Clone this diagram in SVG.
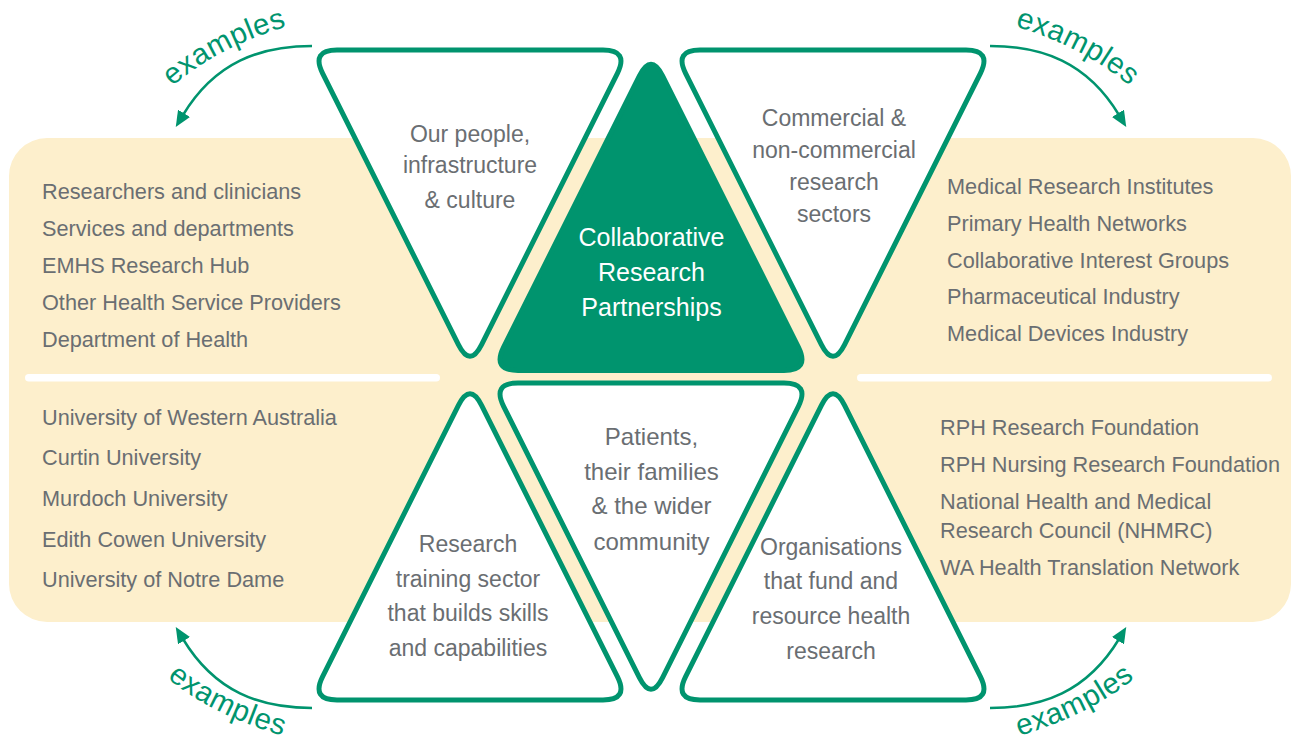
<svg xmlns="http://www.w3.org/2000/svg" xmlns:xlink="http://www.w3.org/1999/xlink" width="1292" height="742" viewBox="0 0 1292 742">
  <style>
    .panel { fill: #FDEFCC; }
    .divider { fill: #FFFFFF; }
    .tri { fill: #FFFFFF; stroke: #00946E; stroke-width: 5; stroke-linejoin: round; }
    .tri-core { fill: #00946E; stroke: #00946E; stroke-width: 5; }
    .label { font-family: "Liberation Sans", Arial, sans-serif; fill: #6A6E72; text-anchor: middle; }
    .side { font-size: 23px; }
    .mid { font-size: 24px; }
    .core { font-family: "Liberation Sans", Arial, sans-serif; font-size: 25px; fill: #FFFFFF; text-anchor: middle; }
    .list { font-family: "Liberation Sans", Arial, sans-serif; font-size: 21.7px; fill: #6A6E72; }
    .arrow { fill: none; stroke: #00946E; stroke-width: 2.5; marker-end: url(#arrowhead); }
    .ex { font-family: "Liberation Sans", Arial, sans-serif; font-size: 29.5px; fill: #00946E; letter-spacing: 0.5px; }
  </style>
  <defs>
    <!-- rounded triangle pointing down, origin at centre of top edge -->
    <path id="tri-down" d="M-133,0 L133,0 Q159,0 147.4,23.3 L11.6,294.7 Q0,318 -11.6,294.7 L-147.4,23.3 Q-159,0 -133,0 Z"/>
    <!-- rounded triangle pointing up, origin at centre of base -->
    <path id="tri-up" d="M-133,0 L133,0 Q159,0 147.4,-23.3 L11.6,-294.7 Q0,-318 -11.6,-294.7 L-147.4,-23.3 Q-159,0 -133,0 Z"/>
    <marker id="arrowhead" viewBox="0 0 16 14" refX="2" refY="7" markerWidth="16" markerHeight="14" markerUnits="userSpaceOnUse" orient="auto">
      <path d="M0,0 L16,7 L0,14 Z" fill="#00946E"/>
    </marker>
    <path id="ex-path-tl" d="M161,97 Q212,46 302,22"/>
    <path id="ex-path-tr" d="M1000,22 Q1090,46 1141,97"/>
    <path id="ex-path-bl" d="M156,668 Q205,715 297,740"/>
    <path id="ex-path-br" d="M1005,740 Q1097,715 1146,668"/>
  </defs>

  <!-- background panel and separators -->
  <g id="background">
    <rect class="panel" x="9" y="138" width="1282" height="484" rx="38"/>
    <rect class="divider" x="25" y="374" width="415" height="7.5" rx="3.75"/>
    <rect class="divider" x="857" y="374" width="415" height="7.5" rx="3.75"/>
  </g>

  <!-- example lists -->
  <g id="list-people">
    <text class="list" x="42" y="199">Researchers and clinicians</text>
    <text class="list" x="42" y="236">Services and departments</text>
    <text class="list" x="42" y="273">EMHS Research Hub</text>
    <text class="list" x="42" y="310">Other Health Service Providers</text>
    <text class="list" x="42" y="347">Department of Health</text>
  </g>
  <g id="list-training">
    <text class="list" x="42" y="425">University of Western Australia</text>
    <text class="list" x="42" y="465">Curtin University</text>
    <text class="list" x="42" y="506">Murdoch University</text>
    <text class="list" x="42" y="547">Edith Cowen University</text>
    <text class="list" x="42" y="587">University of Notre Dame</text>
  </g>
  <g id="list-sectors">
    <text class="list" x="947" y="194">Medical Research Institutes</text>
    <text class="list" x="947" y="231">Primary Health Networks</text>
    <text class="list" x="947" y="268">Collaborative Interest Groups</text>
    <text class="list" x="947" y="304">Pharmaceutical Industry</text>
    <text class="list" x="947" y="341">Medical Devices Industry</text>
  </g>
  <g id="list-funding">
    <text class="list" x="940" y="435">RPH Research Foundation</text>
    <text class="list" x="940" y="472">RPH Nursing Research Foundation</text>
    <text class="list" x="940" y="509">National Health and Medical</text>
    <text class="list" x="940" y="538">Research Council (NHMRC)</text>
    <text class="list" x="940" y="575">WA Health Translation Network</text>
  </g>

  <!-- triangles -->
  <g id="node-people">
    <use xlink:href="#tri-down" class="tri" transform="translate(470,50)"/>
    <text class="label side" x="470" y="141.5">Our people,</text>
    <text class="label side" x="470" y="173">infrastructure</text>
    <text class="label side" x="470" y="207.5">&amp; culture</text>
  </g>
  <g id="node-sectors">
    <use xlink:href="#tri-down" class="tri" transform="translate(833,50)"/>
    <text class="label side" x="834" y="126">Commercial &amp;</text>
    <text class="label side" x="834" y="158">non-commercial</text>
    <text class="label side" x="834" y="190">research</text>
    <text class="label side" x="834" y="222">sectors</text>
  </g>
  <g id="node-partnerships">
    <use xlink:href="#tri-up" class="tri-core" transform="translate(651,370.5)"/>
    <text class="core" x="651.5" y="246">Collaborative</text>
    <text class="core" x="651.5" y="281">Research</text>
    <text class="core" x="651.5" y="316">Partnerships</text>
  </g>
  <g id="node-community">
    <use xlink:href="#tri-down" class="tri" transform="translate(651,383)"/>
    <text class="label mid" x="651.5" y="445">Patients,</text>
    <text class="label mid" x="651.5" y="480">their families</text>
    <text class="label mid" x="651.5" y="514">&amp; the wider</text>
    <text class="label mid" x="651.5" y="550">community</text>
  </g>
  <g id="node-training">
    <use xlink:href="#tri-up" class="tri" transform="translate(470,700)"/>
    <text class="label side" x="468" y="552">Research</text>
    <text class="label side" x="468" y="587">training sector</text>
    <text class="label side" x="468" y="621">that builds skills</text>
    <text class="label side" x="468" y="656">and capabilities</text>
  </g>
  <g id="node-funding">
    <use xlink:href="#tri-up" class="tri" transform="translate(833,700)"/>
    <text class="label side" x="831" y="555">Organisations</text>
    <text class="label side" x="831" y="589">that fund and</text>
    <text class="label side" x="831" y="624">resource health</text>
    <text class="label side" x="831" y="659">research</text>
  </g>

  <!-- "examples" arrows -->
  <g id="connectors">
    <path class="arrow" d="M312,46 C260,46 215,62 183,115"/>
    <path class="arrow" d="M990,46 C1042,46 1087,62 1119,115"/>
    <path class="arrow" d="M312,708 C260,708 215,692 183,639"/>
    <path class="arrow" d="M990,708 C1042,708 1087,692 1119,639"/>
    <text class="ex" text-anchor="middle"><textPath xlink:href="#ex-path-tl" startOffset="50%">examples</textPath></text>
    <text class="ex" text-anchor="middle"><textPath xlink:href="#ex-path-tr" startOffset="50%">examples</textPath></text>
    <text class="ex" text-anchor="middle"><textPath xlink:href="#ex-path-bl" startOffset="50%">examples</textPath></text>
    <text class="ex" text-anchor="middle"><textPath xlink:href="#ex-path-br" startOffset="50%">examples</textPath></text>
  </g>
</svg>
